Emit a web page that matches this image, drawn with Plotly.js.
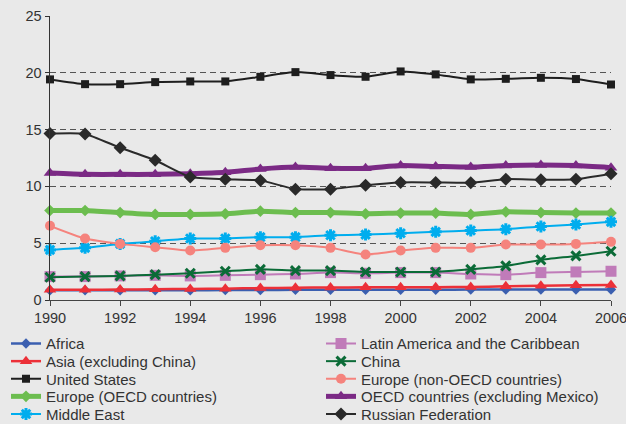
<!DOCTYPE html>
<html>
<head>
<meta charset="utf-8">
<script src="https://cdn.plot.ly/plotly-3.0.1.min.js"></script>
<style>html,body{margin:0;padding:0;background:#e9e9e9;}</style>
</head>
<body>
<div id="chart" style="width:626px;height:424px;"></div>
<script>
const years = [1990,1991,1992,1993,1994,1995,1996,1997,1998,1999,2000,2001,2002,2003,2004,2005,2006];

const africa      = [0.85,0.85,0.85,0.85,0.86,0.87,0.88,0.9,0.9,0.9,0.9,0.9,0.92,0.92,0.93,0.93,0.93];
const asiaExChina = [0.9,0.9,0.92,0.95,0.97,1.0,1.05,1.08,1.1,1.12,1.12,1.13,1.15,1.2,1.25,1.3,1.33];
const unitedStates = [19.42,19.0,19.0,19.18,19.24,19.24,19.65,20.06,19.8,19.65,20.12,19.86,19.42,19.47,19.56,19.45,18.97];
const europeOECD  = [7.88,7.88,7.7,7.53,7.53,7.59,7.82,7.7,7.7,7.59,7.65,7.65,7.53,7.76,7.7,7.65,7.65];
const middleEast  = [4.41,4.59,4.94,5.17,5.41,5.41,5.53,5.53,5.7,5.76,5.88,6.0,6.12,6.23,6.47,6.65,6.88];
const latinAmerica = [2.06,2.06,2.12,2.17,2.12,2.17,2.23,2.29,2.41,2.35,2.41,2.41,2.29,2.23,2.41,2.47,2.53];
const china       = [2.0,2.06,2.12,2.23,2.35,2.53,2.7,2.59,2.59,2.47,2.47,2.47,2.7,3.0,3.53,3.88,4.29];
const europeNonOECD = [6.53,5.41,4.94,4.64,4.35,4.59,4.82,4.82,4.59,4.0,4.35,4.59,4.59,4.88,4.88,4.94,5.12];
const oecdExMexico = [11.17,11.06,11.06,11.06,11.12,11.24,11.53,11.7,11.59,11.59,11.83,11.76,11.7,11.83,11.88,11.83,11.65];
const russia      = [14.65,14.62,13.4,12.3,10.82,10.64,10.53,9.76,9.76,10.11,10.35,10.35,10.33,10.64,10.59,10.64,11.12];

const yTicks = [0,5,10,15,20,25];
const xTicks = [1990,1992,1994,1996,1998,2000,2002,2004,2006];

// plot area geometry (pixels) used for legend placement
const W = 626, H = 424, ML = 50, MR = 15, MT = 16, MB = 124;
const PW = W - ML - MR, PH = H - MT - MB;
const px2x = px => (px - ML) / PW;
const py2y = py => (H - MB - py) / PH;

// legend slots: [column left px, row symbol y px]
const colLeft = [6, 321];
const rowY = [343.8, 361.4, 379.0, 396.6, 414.2];

function tr(name, y, color, width, symbol, size, slot, extra) {
  const m = {symbol: symbol, size: size, color: color};
  if (extra && extra.markerLine) m.line = {color: color, width: extra.markerLine};
  return {
    x: years, y: y, name: name, type: 'scatter', mode: 'lines+markers',
    line: {color: color, width: width, shape: 'spline', smoothing: 0.5},
    marker: m, cliponaxis: false,
    legend: slot.id
  };
}

const slots = {};
function slot(col, row) {
  const n = col * 5 + row + 1;
  const id = n === 1 ? 'legend' : 'legend' + n;
  slots[id] = {
    x: px2x(colLeft[col]), xanchor: 'left', xref: 'paper',
    y: py2y(rowY[row]), yanchor: 'middle', yref: 'paper',
    bgcolor: 'rgba(0,0,0,0)', borderwidth: 0, itemwidth: 30,
    font: {size: 15, color: '#333'}
  };
  return {id: id};
}

const data = [
  tr('Europe (OECD countries)', europeOECD, '#6cbd4f', 5, 'diamond', 9, slot(0, 3)),
  tr('OECD countries (excluding Mexico)', oecdExMexico, '#7b2a85', 5, 'triangle-up', 11, slot(1, 3)),
  tr('United States', unitedStates, '#1e1e1e', 2, 'square', 8, slot(0, 2)),
  tr('Middle East', middleEast, '#00adee', 2, 'asterisk-open', 10, slot(0, 4), {markerLine: 3}),
  tr('Europe (non-OECD countries)', europeNonOECD, '#f5837d', 2, 'circle', 10, slot(1, 2)),
  tr('Latin America and the Caribbean', latinAmerica, '#c07bb9', 2, 'square', 11, slot(1, 0)),
  tr('China', china, '#0b6b37', 2, 'x-thin-open', 9, slot(1, 1), {markerLine: 3}),
  tr('Africa', africa, '#3b5fb0', 2.5, 'diamond', 8, slot(0, 0)),
  tr('Asia (excluding China)', asiaExChina, '#ec3038', 2.5, 'triangle-up', 11, slot(0, 1)),
  tr('Russian Federation', russia, '#2a2a2a', 2, 'diamond', 10, slot(1, 4))
];

const layout = Object.assign({
  width: W, height: H,
  paper_bgcolor: '#e9e9e9', plot_bgcolor: '#e9e9e9',
  margin: {l: ML, r: MR, t: MT, b: MB, autoexpand: false},
  font: {family: 'Liberation Sans, Arial, sans-serif', color: '#333', size: 15},
  xaxis: {
    range: [1990, 2006], tickvals: xTicks, ticktext: xTicks.map(String),
    showgrid: false, zeroline: false, showline: true, linecolor: '#444', linewidth: 1,
    ticks: 'outside', ticklen: 5, tickcolor: '#444', tickfont: {size: 14.5, color: '#333'},
    ticklabeloverflow: 'allow'
  },
  yaxis: {
    range: [0, 25], tickvals: yTicks, ticktext: yTicks.map(String),
    showgrid: true, gridcolor: '#555', griddash: '6px,4px', gridwidth: 1,
    zeroline: false, showline: true, linecolor: '#333', linewidth: 1.5,
    ticks: 'outside', ticklen: 4, tickcolor: '#333', tickfont: {size: 14.5, color: '#333'},
    ticklabeloverflow: 'allow'
  },
  showlegend: true
}, slots);

Plotly.newPlot('chart', data, layout, {displayModeBar: false, staticPlot: true});
</script>
</body>
</html>
